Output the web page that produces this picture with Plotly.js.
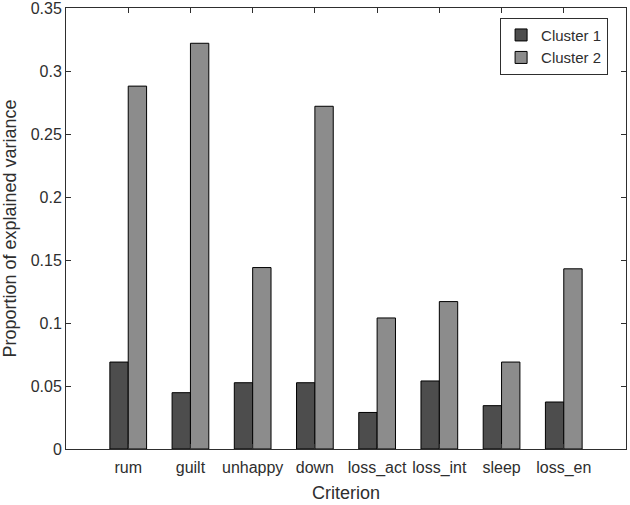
<!DOCTYPE html>
<html>
<head>
<meta charset="utf-8">
<script src="https://cdn.plot.ly/plotly-3.0.1.min.js"></script>
<style>html,body{margin:0;padding:0;background:#fff;}#chart{width:630px;height:505px;}</style>
</head>
<body>
<div id="chart"></div>
<script>
const categories = ["rum", "guilt", "unhappy", "down", "loss_act", "loss_int", "sleep", "loss_en"];
const cluster1 = [0.069, 0.0447, 0.0526, 0.0526, 0.029, 0.054, 0.0344, 0.0373];
const cluster2 = [0.288, 0.322, 0.144, 0.272, 0.104, 0.117, 0.069, 0.143];
const seriesNames = ["Cluster 1", "Cluster 2"];
const yTicks = [0, 0.05, 0.1, 0.15, 0.2, 0.25, 0.3, 0.35];

const txt = "#2e2e2e";
const fam = "Liberation Sans, Arial, sans-serif";
const tickFont = {family: fam, size: 16, color: txt};
const labelFont = {family: fam, size: 18, color: txt};

const traces = [
  {type: "bar", name: seriesNames[0], x: categories, y: cluster1,
   marker: {color: "#4d4d4d", line: {color: "#000", width: 1}}},
  {type: "bar", name: seriesNames[1], x: categories, y: cluster2,
   marker: {color: "#8c8c8c", line: {color: "#000", width: 1}}}
];

const layout = {
  width: 630, height: 505,
  margin: {l: 66, r: 4, t: 8, b: 56},
  paper_bgcolor: "#fff", plot_bgcolor: "#fff",
  font: tickFont,
  barmode: "group", bargap: 0.41, bargroupgap: 0,
  xaxis: {
    type: "category", range: [-1, 8],
    showline: true, linecolor: txt, linewidth: 1, mirror: "ticks",
    ticks: "inside", ticklen: 5, tickcolor: txt, showgrid: false, zeroline: false,
    tickfont: tickFont, fixedrange: true, ticklabelstandoff: 4,
    title: {text: "Criterion", font: labelFont, standoff: 10}
  },
  yaxis: {
    range: [0, 0.35], tickvals: yTicks,
    showline: true, linecolor: txt, linewidth: 1, mirror: "ticks",
    ticks: "inside", ticklen: 5, tickcolor: txt, showgrid: false, zeroline: false,
    tickfont: tickFont, fixedrange: true, ticklabeloverflow: "allow",
    title: {text: "Proportion of explained variance", font: labelFont, standoff: 10}
  },
  showlegend: true,
  legend: {
    x: 0.968, y: 0.978, xanchor: "right", yanchor: "top",
    bgcolor: "#fff", bordercolor: txt, borderwidth: 1,
    font: {family: fam, size: 15, color: txt}, tracegroupgap: 0
  }
};

Plotly.newPlot("chart", traces, layout, {displayModeBar: false, staticPlot: true});
</script>
</body>
</html>
